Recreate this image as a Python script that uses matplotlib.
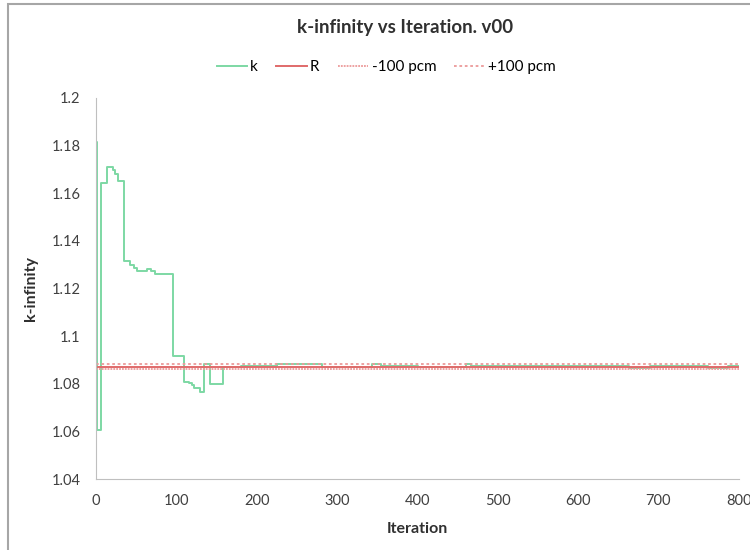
import numpy as np
import matplotlib.pyplot as plt
from matplotlib.patches import Rectangle

## Data
iters = [0, 1, 6, 14, 21, 24, 28, 35, 42, 47, 51, 63, 69, 74, 96, 110, 116, 119, 122,
         129, 134, 142, 158, 181, 225, 281, 343, 355, 401, 461, 467, 664, 689, 762,
         786, 800]
k_vals = [1.1815, 1.0605, 1.1642, 1.1709, 1.1698, 1.1680, 1.1651, 1.1317, 1.1299,
          1.1287, 1.1273, 1.1280, 1.1273, 1.1259, 1.0918, 1.0808, 1.0804, 1.0795,
          1.0783, 1.0767, 1.0883, 1.0798, 1.0869, 1.0874, 1.0883, 1.0871, 1.0883,
          1.0874, 1.0869, 1.0881, 1.0874, 1.0868, 1.0874, 1.0868, 1.0874, 1.0874]
R_val = 1.0872
pcm = 0.001  # 100 pcm

iter_range = [0, 800]

## Style
plt.rcParams['font.family'] = ['Lato', 'DejaVu Sans']
green = '#7dd8a4'
red = '#e06a6a'
pink = '#ec9a9a'

fig = plt.figure(figsize=(7.5, 5.5), dpi=100)
ax = fig.add_axes([0.128, 0.129, 0.857, 0.693])

ax.plot(iters, k_vals, drawstyle='steps-post', color=green, lw=1.4, label='k')
ax.plot(iter_range, [R_val, R_val], color=red, lw=1.4, label='R')
ax.plot(iter_range, [R_val - pcm, R_val - pcm], color=pink, lw=1.3,
        linestyle=(0, (1, 0.6)), label='-100 pcm')
ax.plot(iter_range, [R_val + pcm, R_val + pcm], color=pink, lw=1.3,
        linestyle=(0, (1.5, 1.5)), label='+100 pcm')

ax.set_xlim(0, 800)
ax.set_ylim(1.04, 1.2)
ax.set_xticks(np.arange(0, 801, 100))
ax.set_yticks(np.arange(1.04, 1.2001, 0.02))
ax.set_yticklabels(['1.04', '1.06', '1.08', '1.1', '1.12', '1.14', '1.16', '1.18', '1.2'])
ax.tick_params(length=0, labelsize=10.5, colors='#404040', pad=11)
for s in ['top', 'right']:
    ax.spines[s].set_visible(False)
for s in ['left', 'bottom']:
    ax.spines[s].set_color('#bfbfbf')

ax.set_xlabel('Iteration', fontsize=11.5, fontweight='bold', color='#303030', labelpad=10)
ax.set_ylabel('k-infinity', fontsize=11.5, fontweight='bold', color='#303030', labelpad=10)
fig.suptitle('k-infinity vs Iteration. v00', x=0.54, y=0.965, fontsize=13.5,
             fontweight='bold', color='#303030')

fig.legend(loc='center', bbox_to_anchor=(0.515, 0.878), ncol=4, frameon=False,
           fontsize=11, handlelength=2.0, columnspacing=1.2, handletextpad=0.2)

# outer chart border (cropped screenshot)
fig.patches.append(Rectangle((8 / 750, -0.05), 1.2, 1 - 4 / 550 + 0.05,
                             transform=fig.transFigure, fill=False,
                             edgecolor='#a6a6a6', lw=1.5))

fig.savefig('out.png', dpi=100)
